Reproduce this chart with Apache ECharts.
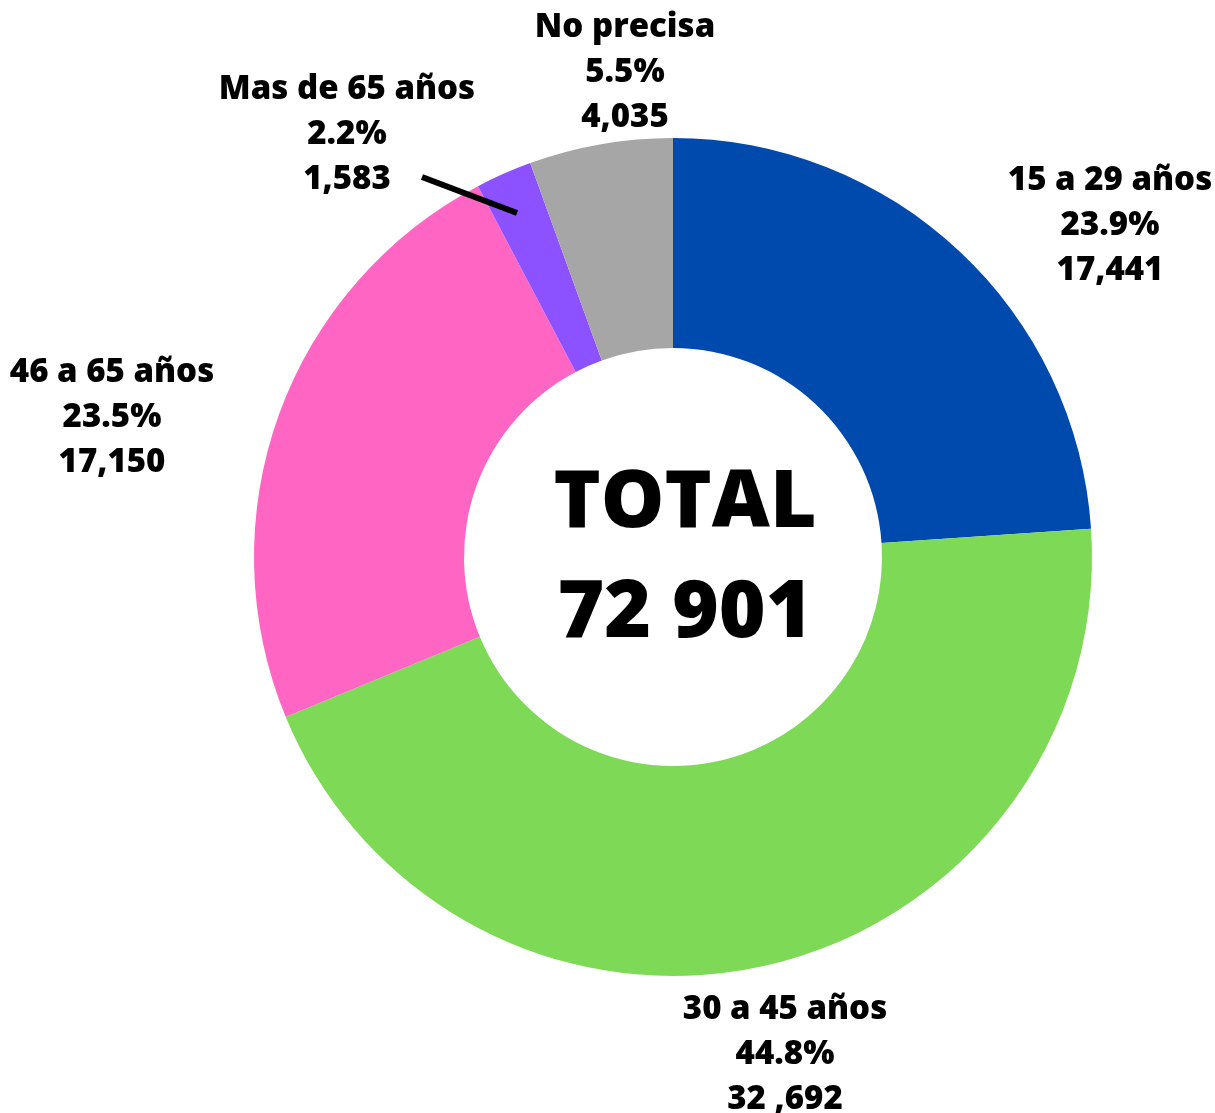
<!DOCTYPE html>
<html>
<head>
<meta charset="utf-8">
<script src="https://cdn.jsdelivr.net/npm/echarts@6/dist/echarts.min.js"></script>
<style>html,body{margin:0;padding:0;background:#fff}#c{width:1215px;height:1113px}</style>
</head>
<body>
<div id="c"></div>
<script>
var categories = ['15 a 29 años', '30 a 45 años', '46 a 65 años', 'Mas de 65 años', 'No precisa'];
var values = [17441, 32692, 17150, 1583, 4035];
var valueLabels = ['17,441', '32 ,692', '17,150', '1,583', '4,035'];
var colors = ['#004AAD', '#7ED957', '#FF66C4', '#8C52FF', '#A6A6A6'];

var labelPos = [[1110, 226], [785, 1055], [112, 418], [347, 135], [625, 73]];

var total = values.reduce(function (a, b) { return a + b; }, 0);
var totalText = String(total).replace(/\B(?=(\d{3})+(?!\d))/g, ' ');

var chart = echarts.init(document.getElementById('c'));
var data = categories.map(function (n, i) {
  return {
    name: n,
    value: values[i],
    itemStyle: { color: colors[i] }
  };
});
chart.setOption({
  animation: false,
  backgroundColor: '#fff',
  graphic: [{
    type: 'text',
    x: 685, y: 559,
    z: 100,
    style: {
      text: 'TOTAL\n' + totalText,
      align: 'center',
      verticalAlign: 'middle',
      font: '800 80px "Open Sans"',
      lineHeight: 110,
      fill: '#000'
    }
  }, {
    type: 'line',
    z: 100,
    shape: { x1: 422, y1: 177, x2: 517, y2: 213 },
    style: { stroke: '#000', lineWidth: 6 }
  }],
  series: [{
    type: 'pie',
    center: [673, 557],
    radius: [209, 419],
    startAngle: 90,
    clockwise: true,
    avoidLabelOverlap: false,
    itemStyle: { borderWidth: 0 },
    labelLine: { show: false },
    label: {
      show: true,
      position: 'outside',
      formatter: function (p) {
        return p.name + '\n' + (p.value / total * 100).toFixed(1) + '%\n' + valueLabels[p.dataIndex];
      },
      fontFamily: 'Open Sans',
      fontWeight: 800,
      fontSize: 33,
      lineHeight: 45,
      color: '#000',
      align: 'center'
    },
    labelLayout: function (p) {
      var pos = labelPos[p.dataIndex];
      return { x: pos[0], y: pos[1], align: 'center', verticalAlign: 'middle' };
    },
    data: data
  }]
});
</script>
</body>
</html>
